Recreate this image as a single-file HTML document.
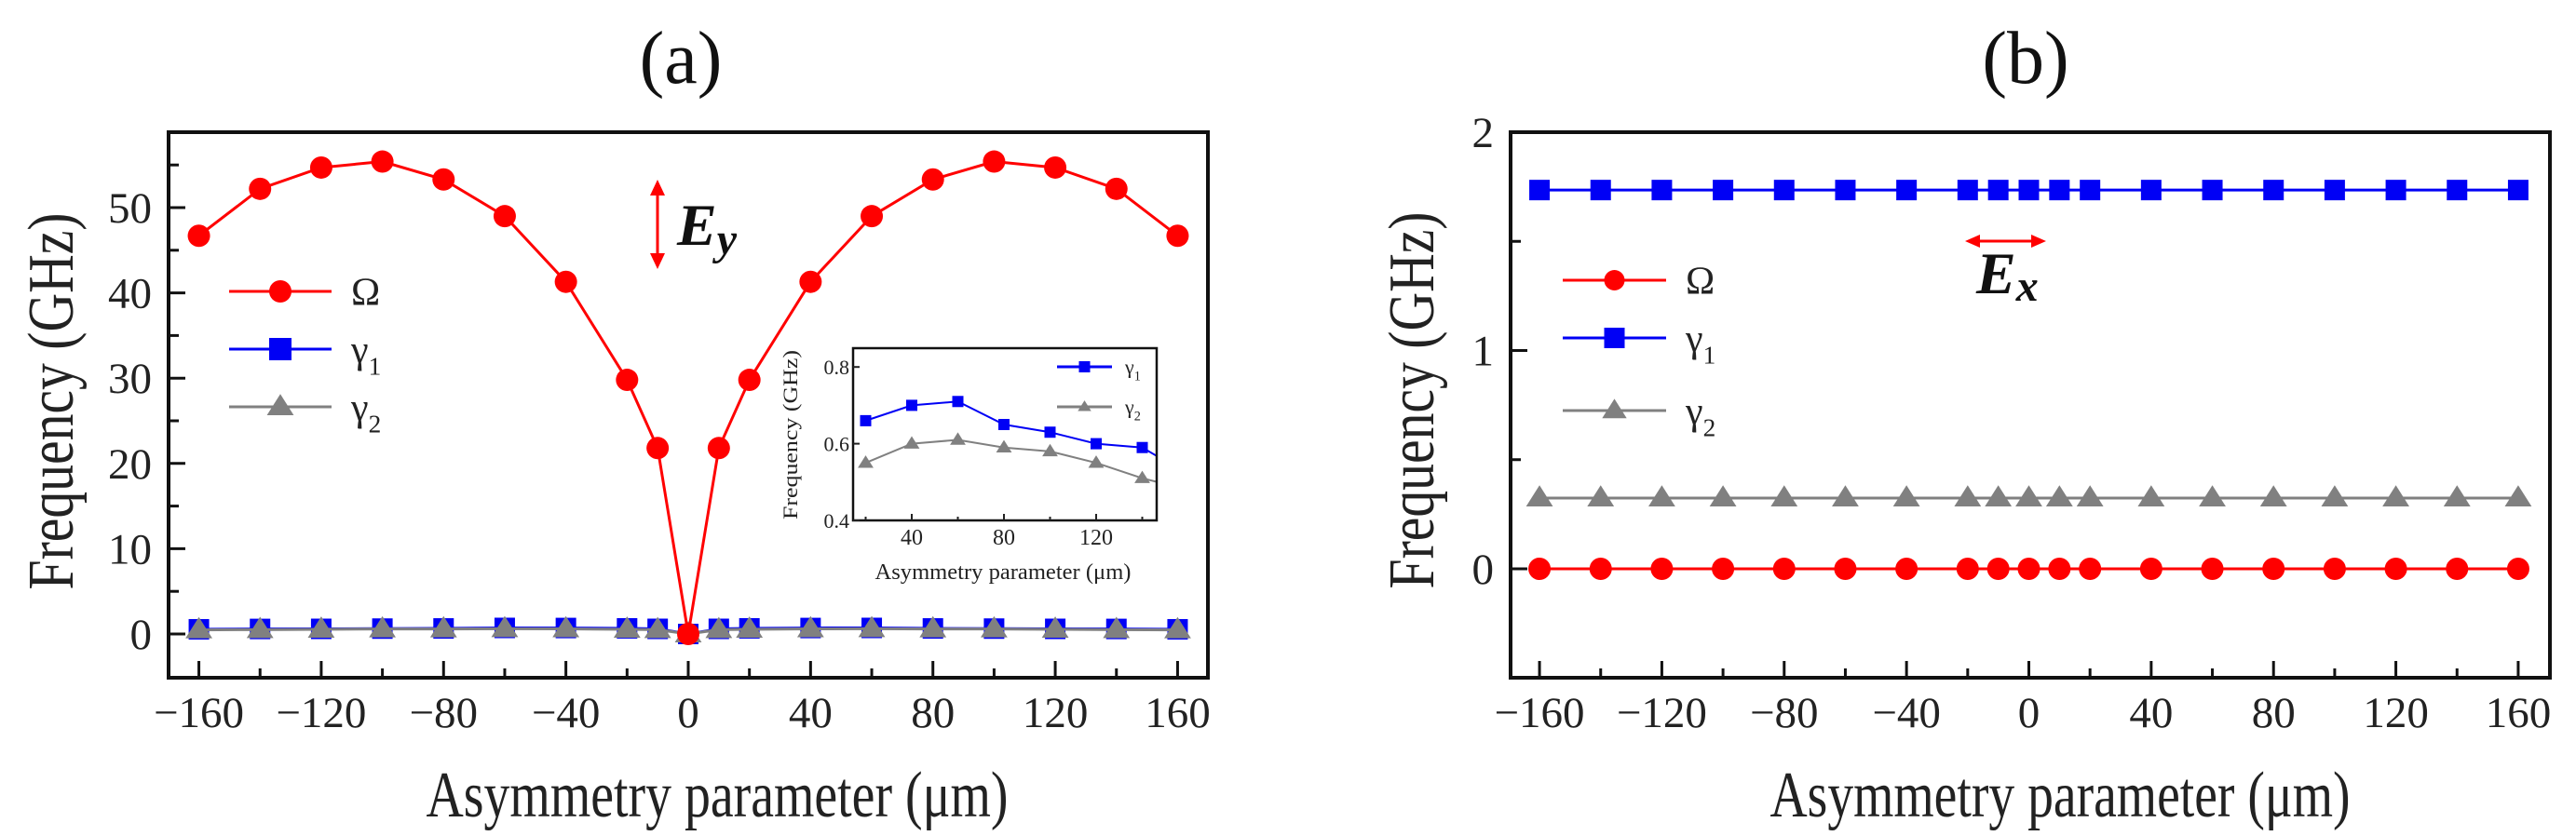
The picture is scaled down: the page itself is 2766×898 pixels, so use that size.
<!DOCTYPE html>
<html><head><meta charset="utf-8"><style>
html,body{margin:0;padding:0;background:#fff;}
svg{display:block;font-family:"Liberation Serif",serif;}
</style></head><body>
<svg id="fig" width="2766" height="898" viewBox="0 0 2766 898" xmlns="http://www.w3.org/2000/svg">
<defs>
<clipPath id="insetClip"><rect x="916" y="374" width="326" height="185"/></clipPath>
</defs>
<g id="pa"></g>
<g id="pb"></g>
</svg>
<script>
// ---- data ----
const xsA = [-160,-140,-120,-100,-80,-60,-40,-20,-10,0,10,20,40,60,80,100,120,140,160];
const omegaA = [46.7,52.2,54.7,55.4,53.3,49.0,41.3,29.8,21.8,0,21.8,29.8,41.3,49.0,53.3,55.4,54.7,52.2,46.7];
const gamma1A = [0.55,0.59,0.60,0.63,0.65,0.71,0.70,0.66,0.6,0,0.6,0.66,0.70,0.71,0.65,0.63,0.60,0.59,0.55];
const gamma2A = [0.48,0.51,0.55,0.58,0.59,0.61,0.60,0.55,0.5,0,0.5,0.55,0.60,0.61,0.59,0.58,0.55,0.51,0.48];
const insetX = [20,40,60,80,100,120,140,160];
const insetG1 = [0.66,0.70,0.71,0.65,0.63,0.60,0.59,0.52];
const insetG2 = [0.55,0.60,0.61,0.59,0.58,0.55,0.51,0.48];
const xsB = [-160,-140,-120,-100,-80,-60,-40,-20,-10,0,10,20,40,60,80,100,120,140,160];
const omegaB = [0,0,0,0,0,0,0,0,0,0,0,0,0,0,0,0,0,0,0];
const gamma1B = [1.735,1.735,1.735,1.735,1.735,1.735,1.735,1.735,1.735,1.735,1.735,1.735,1.735,1.735,1.735,1.735,1.735,1.735,1.735];
const gamma2B = [0.324,0.324,0.324,0.324,0.324,0.324,0.324,0.324,0.324,0.324,0.324,0.324,0.324,0.324,0.324,0.324,0.324,0.324,0.324];
const xTicks = [-160,-120,-80,-40,0,40,80,120,160];
const xTickLabels = ["\u2212160","\u2212120","\u221280","\u221240","0","40","80","120","160"];
const yTicksA = [0,10,20,30,40,50];
const yTicksB = [0,1,2];
const insetXTicks = [40,80,120];
const insetYTicks = [0.4,0.6,0.8];

const NS = "http://www.w3.org/2000/svg";
const RED="#f00", BLUE="#0000f5", GRAY="#808080";
function mk(parent, tag, attrs, name, text){
  const e=document.createElementNS(NS,tag);
  for(const k in attrs) e.setAttribute(k,attrs[k]);
  
  
  if(text!==undefined) e.textContent=text;
  parent.appendChild(e); return e;
}
function marker(g,type,cx,cy,s,color,name){
  if(type==='c') return mk(g,'circle',{cx:cx,cy:cy,r:s,fill:color},name);
  if(type==='s') return mk(g,'rect',{x:cx-s,y:cy-s,width:2*s,height:2*s,fill:color},name);
  return mk(g,'polygon',{points:`${cx},${cy-s*1.15} ${cx-s*1.2},${cy+s*0.75} ${cx+s*1.2},${cy+s*0.75}`,fill:color},name);
}
function series(g,xs,ys,X,Y,color,type,s,name,lw){
  const pts=xs.map((v,i)=>X(v)+','+Y(ys[i])).join(' ');
  mk(g,'polyline',{points:pts,fill:'none',stroke:color,'stroke-width':lw||3},name+'-line');
  xs.forEach((v,i)=>marker(g,type,X(v),Y(ys[i]),s,color,name+'-point'));
}
function frame(g,L,T,R,B,w){
  mk(g,'rect',{x:L,y:T,width:R-L,height:B-T,fill:'none',stroke:'#111','stroke-width':w},'plot-frame');
}
function legend(g,x1,x2,tx,rows,fs,s){
  rows.forEach(r=>{
    mk(g,'line',{x1:x1,y1:r.y,x2:x2,y2:r.y,stroke:r.c,'stroke-width':3},'legend-line');
    marker(g,r.t,(x1+x2)/2,r.y,s,r.c,'legend-marker');
    const t=mk(g,'text',{x:tx,y:r.y+fs*0.35,'font-size':fs,fill:'#222'},'legend-label',r.lab);
    if(r.sub){const ts=document.createElementNS(NS,'tspan');ts.setAttribute('font-size',fs*0.65);ts.setAttribute('dy',fs*0.3);ts.textContent=r.sub;t.appendChild(ts);}
  });
}

// ---- Panel A ----
const ga=document.getElementById('pa');
const XA=v=>739+v*3.284, YA=v=>681-v*9.16;
mk(ga,'text',{x:731,y:89,'font-size':80,'text-anchor':'middle',fill:'#111'},'panel-a-title','(a)');
// ticks
xTicks.forEach((v,i)=>{
  mk(ga,'line',{x1:XA(v),y1:728,x2:XA(v),y2:710,stroke:'#111','stroke-width':3},'x-tick');
  mk(ga,'text',{x:XA(v),y:781,'font-size':47,'text-anchor':'middle',fill:'#222'},'x-tick-label',xTickLabels[i]);
});
[-140,-100,-60,-20,20,60,100,140].forEach(v=>mk(ga,'line',{x1:XA(v),y1:728,x2:XA(v),y2:718,stroke:'#111','stroke-width':3},'x-minor-tick'));
yTicksA.forEach(v=>{
  mk(ga,'line',{x1:181,y1:YA(v),x2:199,y2:YA(v),stroke:'#111','stroke-width':3},'y-tick');
  mk(ga,'text',{x:163,y:YA(v)+16,'font-size':47,'text-anchor':'end',fill:'#222'},'y-tick-label',String(v));
});
[5,15,25,35,45,55].forEach(v=>mk(ga,'line',{x1:181,y1:YA(v),x2:192,y2:YA(v),stroke:'#111','stroke-width':3},'y-minor-tick'));
frame(ga,181,142,1297,728,4);
mk(ga,'text',{x:770,y:877,'font-size':70,'text-anchor':'middle',textLength:625,lengthAdjust:'spacingAndGlyphs',fill:'#222'},'x-axis-title','Asymmetry parameter (\u03bcm)');
mk(ga,'text',{x:0,y:0,'font-size':70,'text-anchor':'middle',textLength:405,lengthAdjust:'spacingAndGlyphs',fill:'#222',transform:'translate(78,431) rotate(-90)'},'y-axis-title','Frequency (GHz)');
series(ga,xsA,gamma1A,XA,YA,BLUE,'s',11,'gamma1-series',3);
series(ga,xsA,gamma2A,XA,YA,GRAY,'t',12,'gamma2-series',3);
series(ga,xsA,omegaA,XA,YA,RED,'c',12,'omega-series',3);
legend(ga,246,356,377,[{y:313,c:RED,t:'c',lab:'\u03a9'},{y:375,c:BLUE,t:'s',lab:'\u03b3',sub:'1'},{y:437,c:GRAY,t:'t',lab:'\u03b3',sub:'2'}],42,12);
// Ey annotation
mk(ga,'line',{x1:706,y1:205,x2:706,y2:277,stroke:RED,'stroke-width':3},'ey-arrow-shaft');
mk(ga,'polygon',{points:'706,193 698,210 714,210',fill:RED},'ey-arrow-head-up');
mk(ga,'polygon',{points:'706,289 698,272 714,272',fill:RED},'ey-arrow-head-down');
const ey=mk(ga,'text',{x:727,y:263,'font-size':64,'font-weight':'bold','font-style':'italic',fill:'#111'},'ey-label','E');
{const ts=document.createElementNS(NS,'tspan');ts.setAttribute('font-size',48);ts.setAttribute('dy',10);ts.textContent='y';ey.appendChild(ts);}

// inset
const XI=v=>979+(v-40)*2.475, YI=v=>559-(v-0.4)*412;
mk(ga,'rect',{x:916,y:374,width:326,height:185,fill:'#fff'},'inset-background');
const gi=mk(ga,'g',{'clip-path':'url(#insetClip)'},'inset-plot-area');
series(gi,insetX,insetG1,XI,YI,BLUE,'s',6,'inset-gamma1',2);
series(gi,insetX,insetG2,XI,YI,GRAY,'t',7,'inset-gamma2',2);
frame(ga,916,374,1242,559,2.5);
insetXTicks.forEach(v=>{
  mk(ga,'line',{x1:XI(v),y1:559,x2:XI(v),y2:552,stroke:'#222','stroke-width':2},'inset-x-tick');
  mk(ga,'text',{x:XI(v),y:585,'font-size':24,'text-anchor':'middle',fill:'#222'},'inset-x-tick-label',String(v));
});
[20,60,100,140].forEach(v=>mk(ga,'line',{x1:XI(v),y1:559,x2:XI(v),y2:555,stroke:'#222','stroke-width':2},'inset-x-minor-tick'));
insetYTicks.forEach(v=>{
  mk(ga,'line',{x1:916,y1:YI(v),x2:923,y2:YI(v),stroke:'#222','stroke-width':2},'inset-y-tick');
  mk(ga,'text',{x:912,y:YI(v)+8,'font-size':22,'text-anchor':'end',fill:'#222'},'inset-y-tick-label',v.toFixed(1));
});
mk(ga,'text',{x:1077,y:622,'font-size':24,'text-anchor':'middle',textLength:275,lengthAdjust:'spacingAndGlyphs',fill:'#222'},'inset-x-axis-title','Asymmetry parameter (\u03bcm)');
mk(ga,'text',{x:0,y:0,'font-size':22,'text-anchor':'middle',textLength:182,lengthAdjust:'spacingAndGlyphs',fill:'#222',transform:'translate(856,467) rotate(-90)'},'inset-y-axis-title','Frequency (GHz)');
legend(ga,1135,1194,1208,[{y:394,c:BLUE,t:'s',lab:'\u03b3',sub:'1'},{y:437,c:GRAY,t:'t',lab:'\u03b3',sub:'2'}],22,6);

// ---- Panel B ----
const gb=document.getElementById('pb');
const XB=v=>2178.5+v*3.284, YB=v=>611-v*234.5;
mk(gb,'text',{x:2175,y:89,'font-size':80,'text-anchor':'middle',fill:'#111'},'panel-b-title','(b)');
xTicks.forEach((v,i)=>{
  mk(gb,'line',{x1:XB(v),y1:728,x2:XB(v),y2:710,stroke:'#111','stroke-width':3},'x-tick');
  mk(gb,'text',{x:XB(v),y:781,'font-size':47,'text-anchor':'middle',fill:'#222'},'x-tick-label',xTickLabels[i]);
});
[-140,-100,-60,-20,20,60,100,140].forEach(v=>mk(gb,'line',{x1:XB(v),y1:728,x2:XB(v),y2:718,stroke:'#111','stroke-width':3},'x-minor-tick'));
yTicksB.forEach(v=>{
  mk(gb,'line',{x1:1622,y1:YB(v),x2:1640,y2:YB(v),stroke:'#111','stroke-width':3},'y-tick');
  mk(gb,'text',{x:1604,y:YB(v)+16,'font-size':47,'text-anchor':'end',fill:'#222'},'y-tick-label',String(v));
});
[0.5,1.5].forEach(v=>mk(gb,'line',{x1:1622,y1:YB(v),x2:1633,y2:YB(v),stroke:'#111','stroke-width':3},'y-minor-tick'));
frame(gb,1622,142,2738,728,4);
mk(gb,'text',{x:2212,y:877,'font-size':70,'text-anchor':'middle',textLength:623,lengthAdjust:'spacingAndGlyphs',fill:'#222'},'x-axis-title','Asymmetry parameter (\u03bcm)');
mk(gb,'text',{x:0,y:0,'font-size':70,'text-anchor':'middle',textLength:405,lengthAdjust:'spacingAndGlyphs',fill:'#222',transform:'translate(1539,430) rotate(-90)'},'y-axis-title','Frequency (GHz)');
series(gb,xsB,gamma1B,XB,YB,BLUE,'s',11,'gamma1-series',3);
series(gb,xsB,gamma2B,XB,YB,GRAY,'t',12,'gamma2-series',3);
series(gb,xsB,omegaB,XB,YB,RED,'c',12,'omega-series',3);
legend(gb,1678,1789,1810,[{y:301,c:RED,t:'c',lab:'\u03a9'},{y:363,c:BLUE,t:'s',lab:'\u03b3',sub:'1'},{y:441,c:GRAY,t:'t',lab:'\u03b3',sub:'2'}],42,11);
mk(gb,'line',{x1:2122,y1:259,x2:2185,y2:259,stroke:RED,'stroke-width':3},'ex-arrow-shaft');
mk(gb,'polygon',{points:'2110,259 2126,252 2126,266',fill:RED},'ex-arrow-head-left');
mk(gb,'polygon',{points:'2197,259 2181,252 2181,266',fill:RED},'ex-arrow-head-right');
const ex=mk(gb,'text',{x:2122,y:315,'font-size':64,'font-weight':'bold','font-style':'italic',fill:'#111'},'ex-label','E');
{const ts=document.createElementNS(NS,'tspan');ts.setAttribute('font-size',48);ts.setAttribute('dy',8);ts.textContent='x';ex.appendChild(ts);}
</script>
</body></html>
